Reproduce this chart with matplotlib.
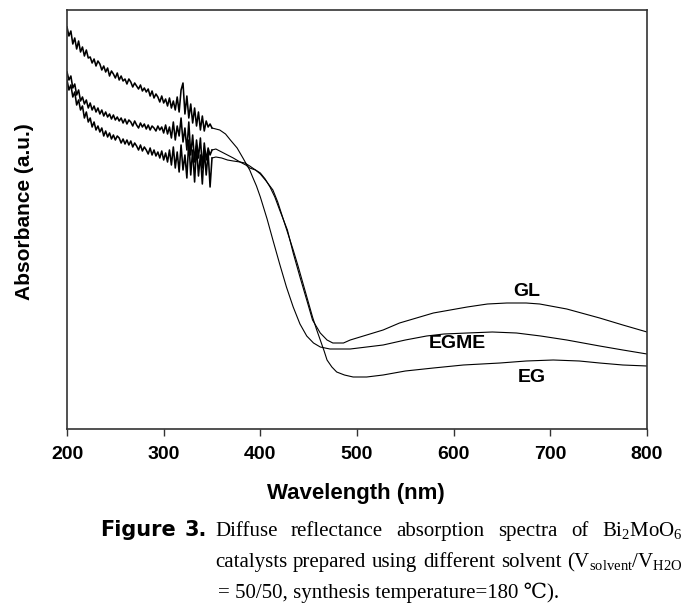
import numpy as np
import matplotlib
matplotlib.use('Agg')
from matplotlib import pyplot as plt

plt.rcParams['font.family'] = ['Liberation Sans', 'DejaVu Sans']
plt.rcParams['mathtext.fontset'] = 'custom'
plt.rcParams['mathtext.rm'] = 'Liberation Serif'
plt.rcParams['mathtext.it'] = 'Liberation Serif:italic'

# noisy part of the spectra, 200-350 nm every 2 nm
wl_noisy = np.arange(200, 351, 2)

egme_noisy = [4.02, 3.93, 3.98, 3.85, 3.91, 3.80, 3.88, 3.77, 3.82, 3.73, 3.79, 3.71, 3.72, 3.66, 3.70, 3.63,
              3.68, 3.65, 3.59, 3.63, 3.57, 3.61, 3.53, 3.58, 3.55, 3.51, 3.56, 3.49, 3.53, 3.48, 3.50, 3.45,
              3.50, 3.47, 3.42, 3.46, 3.43, 3.40, 3.44, 3.38, 3.41, 3.37, 3.40, 3.33, 3.38, 3.31, 3.35, 3.32,
              3.27, 3.33, 3.26, 3.30, 3.23, 3.31, 3.21, 3.28, 3.19, 3.32, 3.17, 3.39, 3.46, 3.15, 3.33, 3.11,
              3.25, 3.06, 3.21, 3.03, 3.17, 2.99, 3.13, 2.98, 3.08, 3.02, 3.05, 3.01]
gl_noisy = [3.57, 3.49, 3.53, 3.41, 3.45, 3.34, 3.39, 3.28, 3.32, 3.25, 3.29, 3.21, 3.26, 3.19, 3.23, 3.17,
            3.21, 3.15, 3.19, 3.13, 3.17, 3.12, 3.15, 3.10, 3.14, 3.09, 3.12, 3.08, 3.11, 3.06, 3.10, 3.05,
            3.09, 3.07, 3.03, 3.08, 3.04, 3.01, 3.06, 3.02, 3.05, 3.00, 3.04, 2.99, 3.03, 3.01, 2.98, 3.03,
            2.99, 3.02, 2.96, 3.04, 2.95, 3.02, 2.91, 3.07, 2.89, 3.03, 2.93, 3.11, 2.87, 3.01, 2.79, 3.07,
            2.74, 2.94, 2.67, 2.89, 2.71, 2.91, 2.61, 2.86, 2.69, 2.81, 2.74, 2.79]
eg_noisy = [3.49, 3.39, 3.44, 3.32, 3.37, 3.24, 3.29, 3.19, 3.23, 3.11, 3.17, 3.07, 3.11, 3.02, 3.07, 2.99,
            3.03, 2.97, 3.01, 2.93, 2.98, 2.92, 2.96, 2.90, 2.94, 2.89, 2.93, 2.91, 2.86, 2.90, 2.85, 2.89,
            2.84, 2.88, 2.82, 2.86, 2.83, 2.79, 2.84, 2.78, 2.82, 2.79, 2.75, 2.81, 2.74, 2.79, 2.73, 2.77,
            2.71, 2.78, 2.69, 2.76, 2.67, 2.79, 2.64, 2.82, 2.61, 2.77, 2.57, 2.84, 2.59, 2.74, 2.51, 2.89,
            2.54, 2.79, 2.47, 2.83, 2.53, 2.74, 2.45, 2.79, 2.54, 2.77, 2.42, 2.71]

# smooth part, 350-800 nm
egme_wl = [350, 354, 358, 364, 369, 376, 382, 389, 392, 396, 400, 407, 413, 420, 427, 434, 441, 448, 455, 462,
           472, 493, 510, 527, 550, 572, 590, 614, 640, 665, 690, 717, 751, 775, 800]
egme_abs = [3.01, 3.00, 2.99, 2.95, 2.89, 2.81, 2.71, 2.59, 2.52, 2.43, 2.32, 2.10, 1.89, 1.65, 1.42, 1.22,
            1.05, 0.93, 0.86, 0.82, 0.80, 0.80, 0.82, 0.84, 0.89, 0.93, 0.95, 0.96, 0.97, 0.96, 0.93, 0.89,
            0.83, 0.79, 0.75]
gl_wl = [350, 354, 360, 366, 372, 379, 385, 389, 395, 400, 405, 410, 415, 420, 428, 434, 441, 448, 454, 462,
         469, 475, 486, 493, 510, 527, 544, 579, 614, 635, 655, 675, 689, 717, 751, 775, 800]
gl_abs = [2.79, 2.80, 2.77, 2.74, 2.71, 2.67, 2.64, 2.61, 2.59, 2.56, 2.50, 2.42, 2.32, 2.19, 1.99, 1.76,
          1.52, 1.29, 1.09, 0.96, 0.89, 0.86, 0.86, 0.89, 0.94, 0.99, 1.06, 1.16, 1.22, 1.25, 1.26, 1.26,
          1.25, 1.20, 1.11, 1.04, 0.97]
eg_wl = [350, 354, 360, 366, 372, 379, 384, 389, 395, 400, 406, 413, 418, 423, 428, 434, 439, 444, 449, 454,
         458, 462, 466, 469, 474, 479, 487, 496, 510, 527, 550, 579, 610, 648, 675, 703, 730, 751, 775, 800]
eg_abs = [2.71, 2.72, 2.71, 2.69, 2.68, 2.67, 2.66, 2.63, 2.59, 2.55, 2.48, 2.39, 2.27, 2.12, 1.97, 1.79,
          1.63, 1.46, 1.29, 1.12, 1.00, 0.89, 0.78, 0.69, 0.62, 0.57, 0.54, 0.52, 0.52, 0.54, 0.58, 0.61,
          0.64, 0.66, 0.68, 0.69, 0.68, 0.66, 0.64, 0.63]

W, H = 685, 613
fig = plt.figure(figsize=(W / 100, H / 100), dpi=100)
ax = fig.add_axes([67 / W, 1 - 429 / H, 580 / W, 419 / H])

for noisy, wl, ab in [(egme_noisy, egme_wl, egme_abs), (gl_noisy, gl_wl, gl_abs), (eg_noisy, eg_wl, eg_abs)]:
    ax.plot(wl_noisy, noisy, color='black', lw=1.15)
    ax.plot(wl, ab, color='black', lw=0.8)

ax.text(676, 1.37, 'GL', fontsize=14, fontweight='bold', ha='center', va='center')
ax.text(604, 0.85, 'EGME', fontsize=14, fontweight='bold', ha='center', va='center')
ax.text(681, 0.52, 'EG', fontsize=14, fontweight='bold', ha='center', va='center')

ax.set_xlim(200, 800)
ax.set_ylim(0, 4.19)
ax.set_xticks(range(200, 801, 100))
ax.set_yticks([])
ax.tick_params(axis='x', direction='out', length=5, width=1.0, pad=7, labelsize=14, color='#333333')
for lbl in ax.get_xticklabels():
    lbl.set_fontweight('bold')
for sp in ax.spines.values():
    sp.set_linewidth(1.2)
    sp.set_color('#333333')

fig.text(356 / W, 1 - 494 / H, 'Wavelength (nm)', fontsize=16, fontweight='bold', ha='center', va='center')
fig.text(25 / W, 1 - 212 / H, 'Absorbance (a.u.)', fontsize=15, fontweight='bold', rotation=90,
         ha='center', va='center')

# caption
fig.text(100 / W, 1 - 536 / H, 'Figure', fontsize=15, fontweight='bold', family='DejaVu Sans', va='baseline')
fig.text(185 / W, 1 - 536 / H, '3.', fontsize=15, fontweight='bold', family='DejaVu Sans', va='baseline')

serif = ['Liberation Serif', 'DejaVu Serif', 'Noto Sans CJK JP']
renderer = fig.canvas.get_renderer()


def justify(words, x0, x1, ybase):
    texts = [fig.text(0, 1 - ybase / H, w, fontsize=15, family=serif, va='baseline') for w in words]
    widths = [t.get_window_extent(renderer).width for t in texts]
    gap = (x1 - x0 - sum(widths)) / (len(words) - 1)
    xx = x0
    for t, w in zip(texts, widths):
        t.set_x(xx / W)
        xx += w + gap


justify(['Diffuse', 'reflectance', 'absorption', 'spectra', 'of', r'Bi$_2$MoO$_6$'], 215, 683, 536)
justify(['catalysts', 'prepared', 'using', 'different', 'solvent',
         r'(V$_{\mathrm{solvent}}$/V$_{\mathrm{H2O}}$'], 215, 683, 567)
fig.text(218 / W, 1 - 598 / H, '= 50/50, synthesis temperature=180 \u2103).', fontsize=15, family=serif,
         va='baseline')

fig.savefig('out.png', dpi=100)
